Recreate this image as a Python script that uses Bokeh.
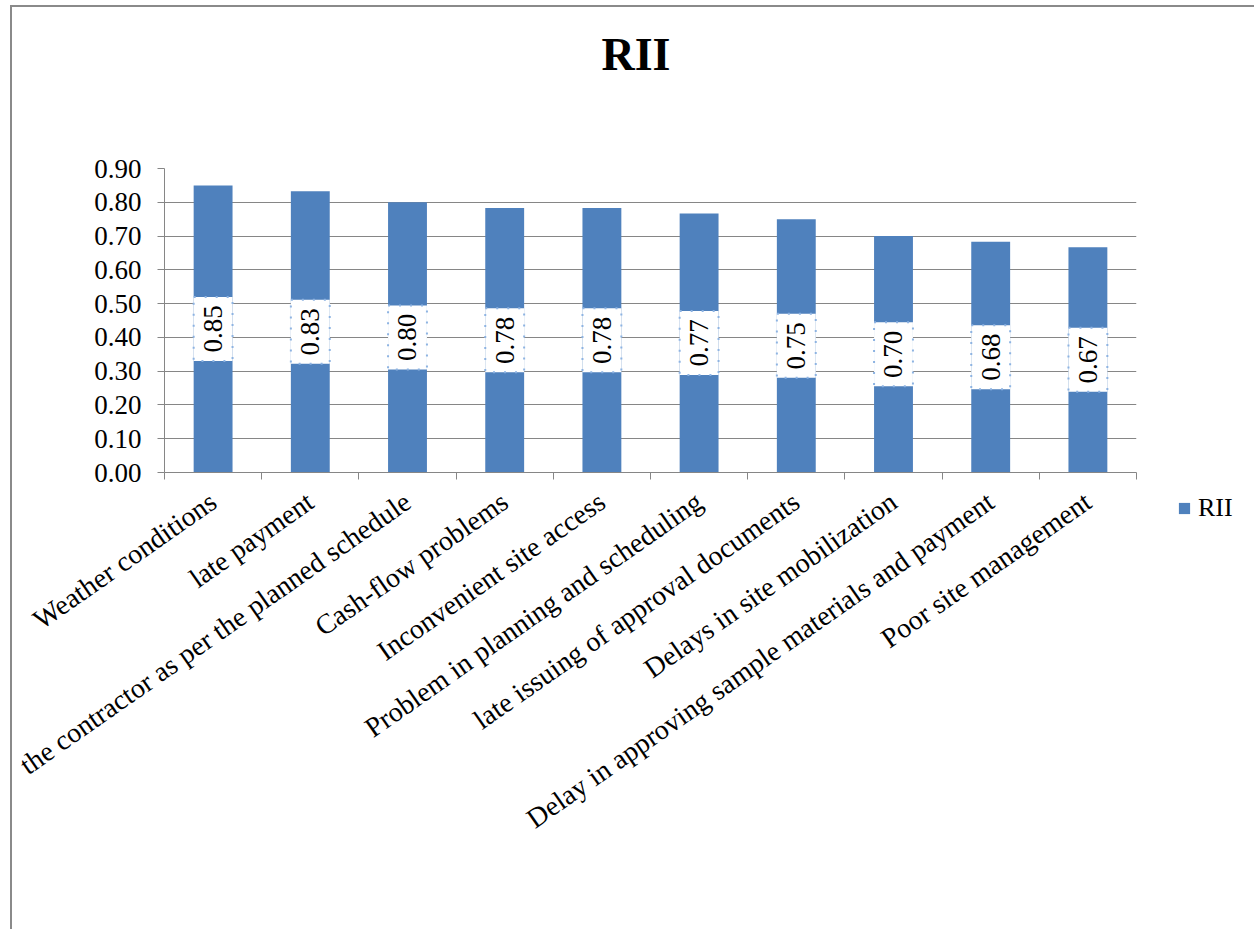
import math
from bokeh.plotting import figure
from bokeh.models import (ColumnDataSource, FactorRange, Range1d, LinearAxis, CategoricalAxis,
                          FixedTicker, NumeralTickFormatter, Legend, LegendItem, LabelSet, Title)
from bokeh.core.properties import value
from bokeh.embed import file_html
from bokeh.resources import INLINE

# ---- data ----
categories = [
    "Weather conditions",
    "late payment",
    "the contractor as per the planned schedule",
    "Cash-flow problems",
    "Inconvenient site access",
    "Problem in planning and scheduling",
    "late issuing of approval documents",
    "Delays in site mobilization",
    "Delay in approving sample materials and payment",
    "Poor site management",
]
rii = [0.85, 0.833, 0.80, 0.783, 0.783, 0.767, 0.75, 0.70, 0.683, 0.667]
y_ticks = [0.0, 0.1, 0.2, 0.3, 0.4, 0.5, 0.6, 0.7, 0.8, 0.9]
series_name = "RII"
chart_title = "RII"

FONT = "Liberation Serif"
GRAY = "#868686"
BAR = "#4F81BD"

src = ColumnDataSource(dict(
    cat=categories,
    val=rii,
    mid=[v / 2 for v in rii],
    lbl=[f"{v:.2f}" for v in rii],
))

p = figure(
    width=1242, height=922,
    frame_width=972, frame_height=304,
    x_range=FactorRange(factors=categories, range_padding=0),
    y_range=Range1d(0, 0.9),
    output_backend="svg", toolbar_location=None,
    x_axis_location=None,
    min_border_left=152, min_border_right=118, min_border_top=161, min_border_bottom=457,
)
p.title = None
p.styles = {"margin-left": "10px", "margin-top": "5px",
            "border-left": "2px solid #8a8a8a", "border-top": "2px solid #8a8a8a"}
p.outline_line_color = None
p.background_fill_color = "white"
p.border_fill_color = "white"

# spacer between frame and title (an invisible axis above)
spacer = LinearAxis(ticker=FixedTicker(ticks=[0.5]), major_label_overrides={0.5: ""},
                    major_label_text_font_size="1px", major_label_standoff=0,
                    axis_line_color=None, major_tick_line_color="white",
                    minor_tick_line_color=None, major_tick_out=89, major_tick_in=0)
p.add_layout(spacer, "above")

title = Title(text=chart_title, text_font=FONT, text_font_style="bold",
              text_font_size="46px", text_color="black",
              align="left", offset=437, standoff=0)
p.add_layout(title, "above")

# grid
p.xgrid.grid_line_color = None
p.ygrid.grid_line_color = GRAY
p.ygrid.ticker = FixedTicker(ticks=y_ticks)

# y axis
ya = p.yaxis[0]
ya.ticker = FixedTicker(ticks=y_ticks)
ya.formatter = NumeralTickFormatter(format="0.00")
ya.axis_line_color = GRAY
ya.major_tick_line_color = GRAY
ya.major_tick_out = 7
ya.major_tick_in = 0
ya.minor_tick_line_color = None
ya.major_label_standoff = 16
ya.major_label_text_font = FONT
ya.major_label_text_font_size = "27px"
ya.major_label_text_color = "black"

# x tick axis (category boundaries)
bounds = list(range(len(categories) + 1))
tick_axis = LinearAxis(
    ticker=FixedTicker(ticks=bounds),
    axis_line_color=GRAY, major_tick_line_color=GRAY,
    major_tick_out=7, major_tick_in=0, minor_tick_line_color=None,
    major_label_overrides={b: "" for b in bounds}, major_label_standoff=0,
    major_label_text_font_size="1px",
)
p.add_layout(tick_axis, "below")

cat_axis = CategoricalAxis(
    axis_line_color=None, major_tick_line_color=None,
    major_tick_out=0, major_tick_in=0,
    major_label_orientation=math.radians(35),
    major_label_text_font=FONT, major_label_text_font_size="28px",
    major_label_text_color="black", major_label_standoff=19,
)
p.add_layout(cat_axis, "below")

# bars
bars = p.vbar(x="cat", top="val", width=0.4, source=src, fill_color=BAR, line_color=None)

# data label boxes
p.rect(x="cat", y="mid", width=0.4, height=64, height_units="screen", source=src,
       fill_color="white", line_color="#8DB3E2", line_dash="2 9", line_width=2)
labels = LabelSet(x="cat", y="mid", text="lbl", source=src, angle=math.pi / 2,
                  text_align="center", text_baseline="middle",
                  text_font=value(FONT), text_font_size=value("27px"), text_color="black")
p.add_layout(labels)

legend = Legend(items=[LegendItem(label=series_name, renderers=[bars])],
                location=(41, -51), orientation="vertical",
                border_line_color=None, background_fill_alpha=0,
                padding=0, margin=0, glyph_width=14, glyph_height=14,
                label_standoff=7, label_text_font=FONT, label_text_font_size="26px",
                label_text_color="black")
p.add_layout(legend, "right")

open("out.html", "w").write(file_html(p, INLINE))
